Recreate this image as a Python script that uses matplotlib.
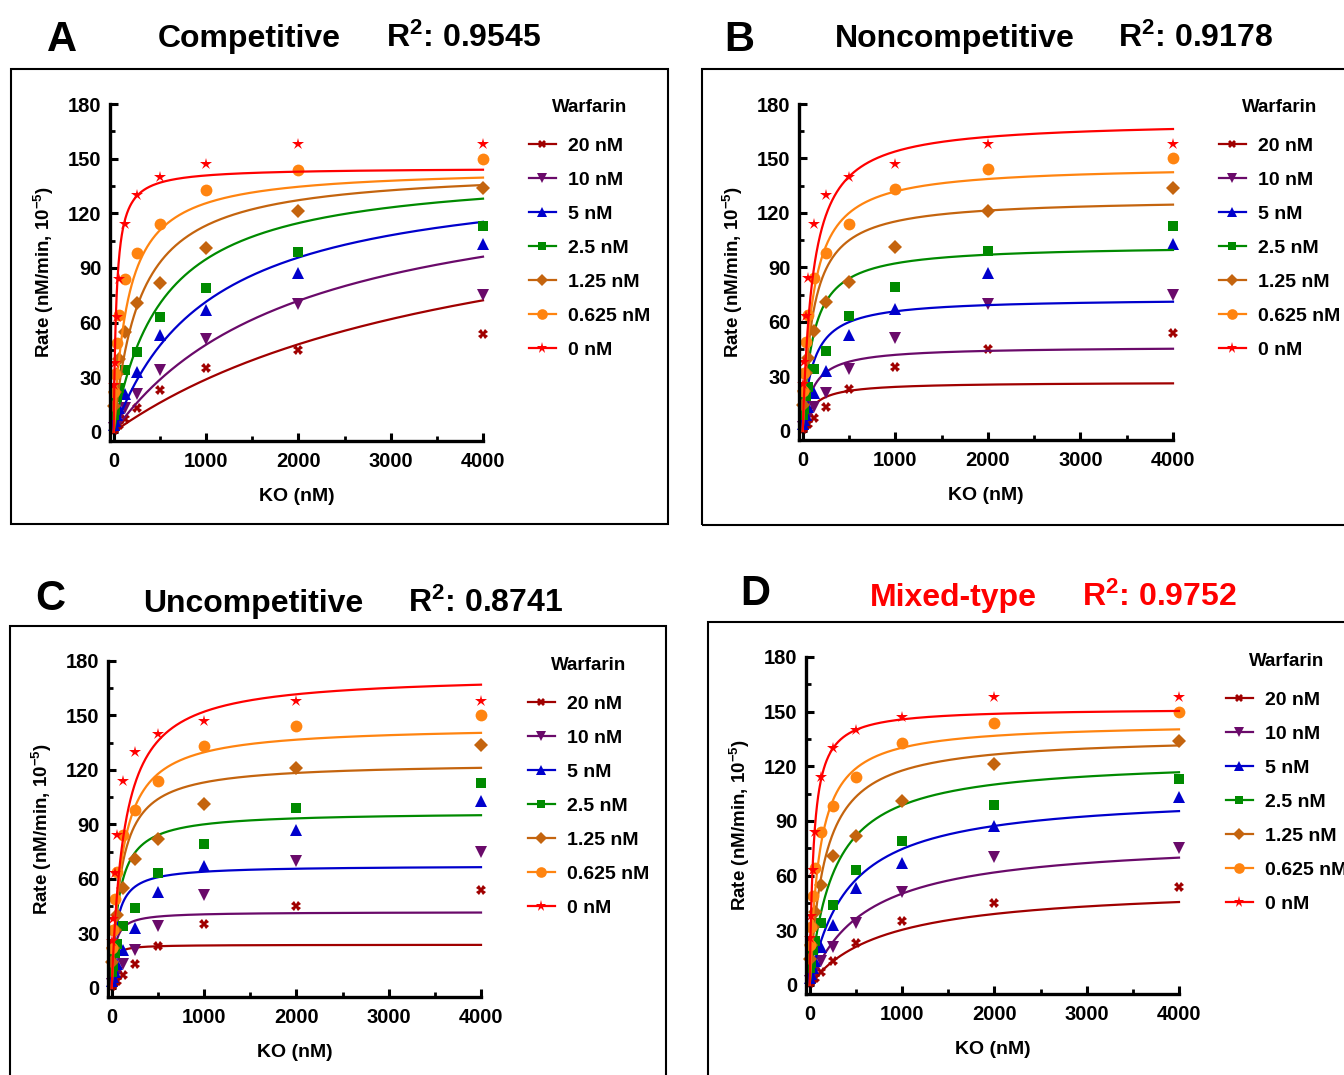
import numpy as np
import matplotlib
matplotlib.use("Agg")
import matplotlib.pyplot as plt
from matplotlib.patches import Rectangle
from matplotlib.lines import Line2D

plt.rcParams['font.family'] = ['Liberation Sans', 'DejaVu Sans']
plt.rcParams['font.weight'] = 'bold'
plt.rcParams['mathtext.fontset'] = 'custom'
plt.rcParams['mathtext.rm'] = 'Liberation Sans:bold'
plt.rcParams['mathtext.bf'] = 'Liberation Sans:bold'
plt.rcParams['mathtext.default'] = 'regular'

# substrate (KO, nM)
ko = [7.8, 15.6, 31.25, 62.5, 125, 250, 500, 1000, 2000, 4000]

# warfarin concentrations (nM) and measured rates (nM/min, 1e-5)
warfarin = [20, 10, 5, 2.5, 1.25, 0.625, 0]
labels = ["20 nM", "10 nM", "5 nM", "2.5 nM", "1.25 nM", "0.625 nM", "0 nM"]
rate_20 = [1, 2, 3, 4, 7, 13, 23, 35, 45, 54]
rate_10 = [2, 4, 6, 8, 13, 21, 34, 51, 70, 75]
rate_5 = [4, 6, 9, 13, 21, 33, 53, 67, 87, 103]
rate_2_5 = [9, 12, 19, 24, 34, 44, 63, 79, 99, 113]
rate_1_25 = [14, 22, 32, 40, 55, 71, 82, 101, 121, 134]
rate_0_625 = [22, 32, 49, 64, 84, 98, 114, 133, 144, 150]
rate_0 = [26, 38, 63, 84, 114, 130, 140, 147, 158, 158]
rates = [rate_20, rate_10, rate_5, rate_2_5, rate_1_25, rate_0_625, rate_0]

colors = ["#A00000", "#6A0A6A", "#0000CC", "#008A00", "#C4640E", "#FF8410", "#FF0000"]
markers = ["X", "v", "^", "s", "D", "o", "*"]
msizes = [7, 8.5, 8.5, 7, 7, 8.5, 9]

# fitted parameters: Vmax, Km, Ki, alpha
fit_comp = (145, 30, 0.15)
fit_noncomp = (170.8, 110, 3.74)
fit_uncomp = (172.6, 135, 3.2)
fit_mixed = (152, 42.9, 0.389, 28.9)

models = ["Competitive", "Noncompetitive", "Uncompetitive", "Mixed-type"]
r2 = ["0.9545", "0.9178", "0.8741", "0.9752"]


def curve(kind, s, i):
    if kind == "Competitive":
        v, km, ki = fit_comp
        return v * s / (km * (1 + i / ki) + s)
    if kind == "Noncompetitive":
        v, km, ki = fit_noncomp
        return v / (1 + i / ki) * s / (km + s)
    if kind == "Uncompetitive":
        v, km, ki = fit_uncomp
        return v * s / (km + s * (1 + i / ki))
    v, km, ki, a = fit_mixed
    return v * s / (km * (1 + i / ki) + s * (1 + i / (a * ki)))


W, H = 1344, 1075
fig = plt.figure(figsize=(W / 100, H / 100), dpi=100)

# pixel layout: axes box (left, right, top, bottom), frame, letter, title, legend anchor
panels = [
    dict(ax=(110, 483, 104, 441), frame=(11, 668, 69, 524), letter=(47, 51), title=(158, 386, 47),
         leg=(511, 81), color="black"),
    dict(ax=(799, 1173, 104, 440), frame=(702, 1360, 69, 525), letter=(724, 51), title=(835, 1118, 47),
         leg=(1201, 81), color="black"),
    dict(ax=(108, 481, 661, 997), frame=(10, 666, 626, 1090), letter=(35, 610), title=(143, 408, 612),
         leg=(510, 639), color="black"),
    dict(ax=(806, 1179, 657, 994), frame=(708, 1360, 622, 1090), letter=(740, 605), title=(870, 1082, 606),
         leg=(1208, 635), color="red"),
]
letters = ["A", "B", "C", "D"]

s_fit = np.linspace(0, 4000, 1000)

for k, p in enumerate(panels):
    l, r, t, b = p["ax"]
    ax = fig.add_axes([l / W, 1 - b / H, (r - l) / W, (b - t) / H])
    for j, (conc, rv) in enumerate(zip(warfarin, rates)):
        ax.plot(s_fit, curve(models[k], s_fit, conc), color=colors[j], lw=1.6, clip_on=False)
        ax.plot(ko, rv, linestyle="none", marker=markers[j], color=colors[j],
                markersize=msizes[j], markeredgewidth=0, clip_on=False)
    ax.set_xlim(-40, 4000)
    ax.set_ylim(-5, 180)
    ax.set_xticks([0, 1000, 2000, 3000, 4000])
    ax.set_xticks([500, 1500, 2500, 3500], minor=True)
    ax.set_yticks([0, 30, 60, 90, 120, 150, 180])
    ax.set_yticks([15, 45, 75, 105, 135, 165], minor=True)
    for side in ["top", "right"]:
        ax.spines[side].set_visible(False)
    for side in ["left", "bottom"]:
        ax.spines[side].set_linewidth(2.4)
    ax.tick_params(which="major", direction="in", length=6, width=2.2, labelsize=14.5)
    ax.tick_params(which="minor", direction="in", length=3.5, width=2.0)
    ax.tick_params(axis="x", pad=8)
    ax.tick_params(axis="y", pad=6)
    ax.set_xlabel("KO (nM)", fontsize=14, fontweight="bold", labelpad=12)
    ax.set_ylabel("Rate (nM/min, 10$^{-5}$)", fontsize=13.5, fontweight="bold", labelpad=9)

    handles = [Line2D([], [], color=colors[j], marker=markers[j], markersize=msizes[j] * 0.9,
                      markeredgewidth=0, lw=1.6) for j in range(len(warfarin))]
    leg = ax.legend(handles, labels, title="Warfarin", loc="upper left",
                    bbox_to_anchor=(p["leg"][0] / W, 1 - p["leg"][1] / H),
                    bbox_transform=fig.transFigure, frameon=False,
                    prop=dict(size=14, weight="bold"), title_fontproperties=dict(size=13.5, weight="bold"),
                    handlelength=1.4, handletextpad=0.65, labelspacing=0.84)
    leg._legend_box.sep = 0.84 * 14 + 4

    fl, fr, ft, fb = p["frame"]
    fig.patches.append(Rectangle((fl / W, 1 - fb / H), (fr - fl) / W, (fb - ft) / H,
                                 transform=fig.transFigure, fill=False, lw=1.5, ec="black"))

    fig.text(p["letter"][0] / W, 1 - p["letter"][1] / H, letters[k], fontsize=30,
             fontweight="bold", va="baseline", ha="left")
    tx, rx, ty = p["title"]
    fig.text(tx / W, 1 - ty / H, models[k], fontsize=23, fontweight="bold",
             va="baseline", ha="left", color=p["color"])
    fig.text(rx / W, 1 - ty / H, "R$^2$: " + r2[k], fontsize=23, fontweight="bold",
             va="baseline", ha="left", color=p["color"])

fig.savefig("out.png", dpi=100)
